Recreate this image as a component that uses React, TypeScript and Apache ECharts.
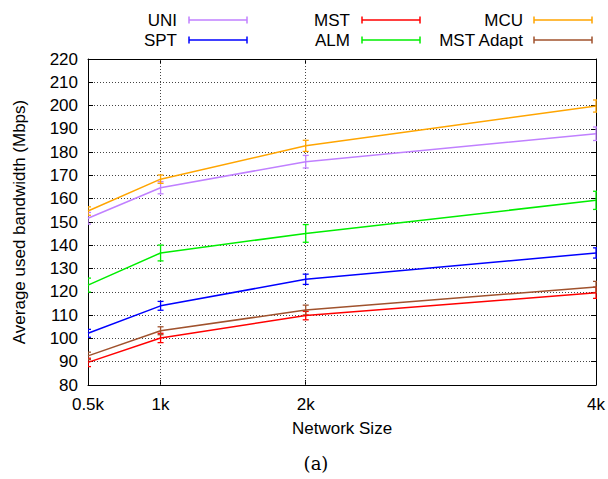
import React, { useEffect, useRef } from "react";
import * as echarts from "echarts";

// Network sizes (thousands of nodes) and tick positions
const sizes = [0.5, 1, 2, 4];
const xTicks = [0.5, 1, 2, 4];

// Average used bandwidth (Mbps) with error half-widths
const uni = [151.6, 164.7, 175.9, 187.9];
const uniErr = [2.5, 2.6, 2.7, 2.9];
const spt = [102.2, 114.0, 125.4, 136.7];
const sptErr = [1.7, 1.9, 2.2, 2.2];
const mst = [89.7, 100.2, 109.8, 119.6];
const mstErr = [1.8, 2.0, 1.8, 2.4];
const alm = [122.9, 136.7, 145.1, 159.3];
const almErr = [3.0, 3.4, 3.8, 3.9];
const mcu = [154.7, 168.4, 182.7, 199.8];
const mcuErr = [1.8, 1.8, 2.4, 2.6];
const mstAdapt = [92.5, 103.3, 112.2, 122.1];
const mstAdaptErr = [1.6, 1.7, 2.1, 2.4];

const seriesDefs = [
  { name: "UNI", values: uni, errs: uniErr, color: "#c080ff" },
  { name: "SPT", values: spt, errs: sptErr, color: "#0000ff" },
  { name: "MST", values: mst, errs: mstErr, color: "#ff0000" },
  { name: "ALM", values: alm, errs: almErr, color: "#00ee00" },
  { name: "MCU", values: mcu, errs: mcuErr, color: "#ffa500" },
  { name: "MST Adapt", values: mstAdapt, errs: mstAdaptErr, color: "#a0522d" },
];

const FONT = "Liberation Sans, Arial, sans-serif";
const FS = 17;
const GRID = { left: 88, top: 59, width: 509, height: 326 };

function errorBars(def: (typeof seriesDefs)[number]) {
  return {
    type: "custom",
    name: def.name,
    clip: true,
    silent: true,
    z: 3,
    data: sizes.map((x, i) => [x, def.values[i], def.errs[i]]),
    encode: { x: 0, y: 1 },
    renderItem: (_params: any, api: any) => {
      const x = api.value(0);
      const y = api.value(1);
      const e = api.value(2);
      const lo = api.coord([x, y - e]);
      const hi = api.coord([x, y + e]);
      const cap = 3;
      const style = { stroke: def.color, lineWidth: 1.3 };
      return {
        type: "group",
        children: [
          { type: "line", shape: { x1: lo[0], y1: lo[1], x2: hi[0], y2: hi[1] }, style },
          { type: "line", shape: { x1: lo[0] - cap, y1: lo[1], x2: lo[0] + cap, y2: lo[1] }, style },
          { type: "line", shape: { x1: hi[0] - cap, y1: hi[1], x2: hi[0] + cap, y2: hi[1] }, style },
        ],
      };
    },
  };
}

function legendGraphics() {
  const textRight = [177, 350, 523];
  const sampleLeft = [189, 362, 534];
  const sampleW = 58;
  const rowY = [20, 40];
  const out: any[] = [];
  seriesDefs.forEach((def, i) => {
    const col = Math.floor(i / 2);
    const row = i % 2;
    const y = rowY[row];
    const x0 = sampleLeft[col];
    const x1 = x0 + sampleW;
    const style = { stroke: def.color, lineWidth: 1.5 };
    out.push({
      type: "text",
      x: textRight[col],
      y,
      style: {
        text: def.name,
        align: "right",
        verticalAlign: "middle",
        font: `${FS}px ${FONT}`,
        fill: "#000",
      },
    });
    out.push({ type: "line", shape: { x1: x0, y1: y, x2: x1, y2: y }, style });
    out.push({ type: "line", shape: { x1: x0, y1: y - 3.5, x2: x0, y2: y + 3.5 }, style });
    out.push({ type: "line", shape: { x1: x1, y1: y - 3.5, x2: x1, y2: y + 3.5 }, style });
  });
  out.push({
    type: "text",
    x: 316,
    y: 463,
    style: {
      text: "(a)",
      align: "center",
      verticalAlign: "middle",
      font: "18px 'DejaVu Serif', 'Liberation Serif', serif",
      fill: "#000",
    },
  });
  return out;
}

export default function App() {
  const ref = useRef<HTMLDivElement>(null);

  useEffect(() => {
    if (!ref.current) return;
    const chart = echarts.init(ref.current, null, { renderer: "svg" });

    const dotted = { type: [1, 2] as any, color: "#444", width: 1 };
    const innerX = xTicks.filter((v) => v > xTicks[0] && v < xTicks[xTicks.length - 1]);

    const lineSeries = seriesDefs.map((def, idx) => ({
      type: "line",
      name: def.name,
      data: sizes.map((x, i) => [x, def.values[i]]),
      showSymbol: false,
      symbol: "none",
      lineStyle: { color: def.color, width: 1.5 },
      itemStyle: { color: def.color },
      z: 4,
      silent: true,
      ...(idx === 0
        ? {
            markLine: {
              silent: true,
              symbol: "none",
              label: { show: false },
              lineStyle: dotted,
              z: 1,
              data: innerX.map((v) => ({ xAxis: v })),
            },
          }
        : {}),
    }));

    const xBase = {
      type: "value",
      min: 0.5,
      max: 4,
      splitLine: { show: false },
      axisLine: { show: true, onZero: false, lineStyle: { color: "#000", width: 1 } },
      axisTick: { show: true, inside: true, length: 5, customValues: xTicks, lineStyle: { color: "#000" } },
    };

    const yBase = {
      type: "value",
      min: 80,
      max: 220,
      interval: 10,
      axisLine: { show: true, onZero: false, lineStyle: { color: "#000", width: 1 } },
      axisTick: { show: true, inside: true, length: 5, lineStyle: { color: "#000" } },
    };

    chart.setOption({
      animation: false,
      backgroundColor: "#fff",
      textStyle: { fontFamily: FONT },
      grid: { ...GRID, show: false, containLabel: false },
      xAxis: [
        {
          ...xBase,
          position: "bottom",
          name: "Network Size",
          nameLocation: "middle",
          nameGap: 35,
          nameTextStyle: { fontSize: FS, color: "#000", fontFamily: FONT },
          axisLabel: {
            show: true,
            customValues: xTicks,
            formatter: (v: number) => `${v}k`,
            fontSize: FS,
            color: "#000",
            margin: 11,
            fontFamily: FONT,
          },
        },
        {
          ...xBase,
          position: "top",
          axisLabel: { show: false },
        },
      ],
      yAxis: [
        {
          ...yBase,
          position: "left",
          name: "Average used bandwidth (Mbps)",
          nameLocation: "middle",
          nameGap: 60,
          nameRotate: 90,
          nameTextStyle: { fontSize: FS, color: "#000", fontFamily: FONT },
          splitLine: { show: true, lineStyle: dotted },
          axisLabel: { fontSize: FS, color: "#000", margin: 10, fontFamily: FONT },
        },
        {
          ...yBase,
          position: "right",
          splitLine: { show: false },
          axisLabel: { show: false },
        },
      ],
      series: [...lineSeries, ...seriesDefs.map(errorBars)],
      graphic: legendGraphics(),
    } as any);

    return () => chart.dispose();
  }, []);

  return (
    <div
      ref={ref}
      style={{ position: "fixed", left: 0, top: 0, width: 608, height: 479, background: "#fff" }}
    />
  );
}
